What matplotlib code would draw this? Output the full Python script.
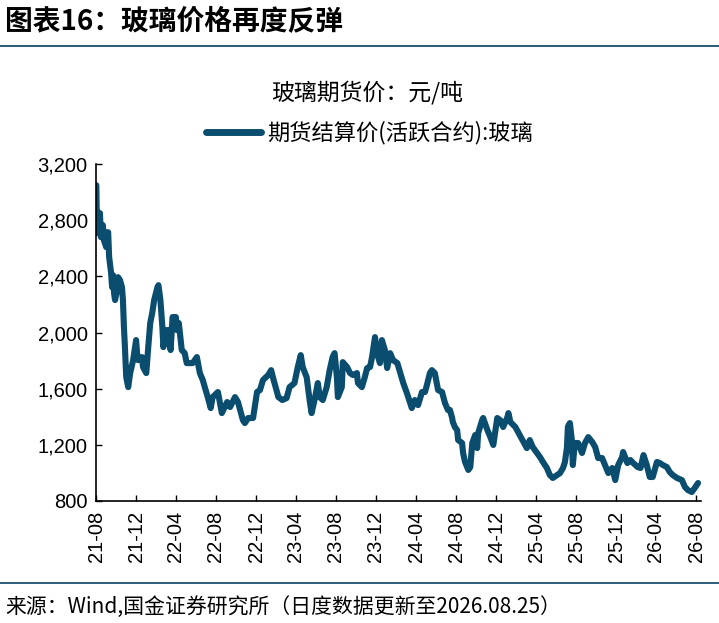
import matplotlib
matplotlib.use("Agg")
import matplotlib.pyplot as plt
import matplotlib.dates as mdates
from matplotlib.ticker import FuncFormatter
import pandas as pd

plt.rcParams['font.family'] = ['Noto Sans CJK SC', 'DejaVu Sans']

title = "图表16：玻璃价格再度反弹"
subtitle = "玻璃期货价：元/吨"
series_name = "期货结算价(活跃合约):玻璃"
source = "来源：Wind,国金证券研究所（日度数据更新至2026.08.25）"

dates = [
    "2021-08-02", "2021-08-03", "2021-08-04", "2021-08-05", "2021-08-13", "2021-08-16",
    "2021-08-22", "2021-08-25", "2021-09-01", "2021-09-04", "2021-09-07", "2021-09-10",
    "2021-09-16", "2021-09-19", "2021-09-22", "2021-09-25", "2021-09-28", "2021-10-04",
    "2021-10-07", "2021-10-13", "2021-10-19", "2021-10-22", "2021-10-25", "2021-10-28",
    "2021-11-01", "2021-11-07", "2021-11-13", "2021-11-22", "2021-12-01", "2021-12-04",
    "2021-12-07", "2021-12-19", "2021-12-22", "2022-01-01", "2022-01-07", "2022-01-13",
    "2022-01-19", "2022-01-25", "2022-02-04", "2022-02-07", "2022-02-13", "2022-02-19",
    "2022-02-22", "2022-03-04", "2022-03-10", "2022-03-16", "2022-03-22", "2022-04-01",
    "2022-04-04", "2022-04-10", "2022-04-19", "2022-04-28", "2022-05-04", "2022-05-13",
    "2022-05-22", "2022-06-04", "2022-06-13", "2022-06-22", "2022-06-28", "2022-07-07",
    "2022-07-16", "2022-07-22", "2022-08-04", "2022-08-07", "2022-08-19", "2022-09-04",
    "2022-09-13", "2022-09-28", "2022-10-07", "2022-10-22", "2022-10-28", "2022-11-07",
    "2022-11-22", "2022-12-04", "2022-12-13", "2022-12-22", "2023-01-07", "2023-01-16",
    "2023-01-22", "2023-02-07", "2023-02-19", "2023-03-04", "2023-03-13", "2023-03-28",
    "2023-04-07", "2023-04-16", "2023-04-22", "2023-05-04", "2023-05-13", "2023-05-19",
    "2023-05-28", "2023-06-07", "2023-06-13", "2023-06-22", "2023-07-04", "2023-07-13",
    "2023-07-22", "2023-07-28", "2023-08-04", "2023-08-07", "2023-08-19", "2023-08-22",
    "2023-09-04", "2023-09-13", "2023-09-22", "2023-10-04", "2023-10-07", "2023-10-19",
    "2023-10-28", "2023-11-04", "2023-11-13", "2023-11-19", "2023-11-28", "2023-12-04",
    "2023-12-13", "2023-12-19", "2023-12-28", "2024-01-04", "2024-01-13", "2024-01-22",
    "2024-02-04", "2024-02-13", "2024-02-22", "2024-03-04", "2024-03-13", "2024-03-19",
    "2024-03-28", "2024-04-07", "2024-04-19", "2024-04-28", "2024-05-04", "2024-05-13",
    "2024-05-19", "2024-05-28", "2024-06-07", "2024-06-19", "2024-06-28", "2024-07-07",
    "2024-07-13", "2024-07-19", "2024-07-22", "2024-07-28", "2024-08-04", "2024-08-07",
    "2024-08-19", "2024-08-22", "2024-08-28", "2024-09-07", "2024-09-13", "2024-09-19",
    "2024-09-28", "2024-10-04", "2024-10-07", "2024-10-19", "2024-10-22", "2024-11-04",
    "2024-11-13", "2024-11-22", "2024-12-04", "2024-12-13", "2024-12-22", "2025-01-04",
    "2025-01-07", "2025-01-13", "2025-01-28", "2025-02-07", "2025-02-22", "2025-03-04",
    "2025-03-13", "2025-03-22", "2025-04-04", "2025-04-13", "2025-04-22", "2025-05-04",
    "2025-05-13", "2025-05-22", "2025-06-04", "2025-06-13", "2025-06-22", "2025-06-28",
    "2025-07-04", "2025-07-07", "2025-07-13", "2025-07-19", "2025-07-22", "2025-07-28",
    "2025-08-07", "2025-08-19", "2025-08-28", "2025-09-07", "2025-09-19", "2025-09-28",
    "2025-10-07", "2025-10-19", "2025-10-28", "2025-11-07", "2025-11-19", "2025-11-28",
    "2025-12-07", "2025-12-19", "2025-12-22", "2026-01-04", "2026-01-13", "2026-01-22",
    "2026-02-04", "2026-02-13", "2026-02-22", "2026-03-04", "2026-03-13", "2026-03-22",
    "2026-04-04", "2026-04-13", "2026-04-22", "2026-05-04", "2026-05-13", "2026-05-22",
    "2026-06-04", "2026-06-19", "2026-06-28", "2026-07-07", "2026-07-19", "2026-07-28",
    "2026-08-07",
]
prices = [
    3049, 2871, 2707, 2857, 2850, 2679,
    2764, 2658, 2608, 2714, 2714, 2537,
    2423, 2323, 2408, 2280, 2231, 2302,
    2394, 2373, 2323, 2231, 2038, 1896,
    1682, 1611, 1711, 1803, 1946, 1853,
    1803, 1825, 1754, 1711, 1896, 2067,
    2138, 2231, 2323, 2337, 2231, 2038,
    1896, 2017, 2017, 1875, 2110, 2110,
    2017, 2067, 1875, 1853, 1782, 1782,
    1782, 1825, 1711, 1661, 1611, 1540,
    1462, 1540, 1569, 1576, 1426, 1505,
    1469, 1540, 1505, 1376, 1355, 1391,
    1391, 1576, 1590, 1661, 1697, 1732,
    1675, 1540, 1519, 1533, 1611, 1640,
    1754, 1839, 1754, 1682, 1519, 1426,
    1519, 1640, 1540, 1519, 1611, 1732,
    1825, 1853, 1682, 1540, 1611, 1789,
    1754, 1711, 1697, 1711, 1640, 1611,
    1682, 1747, 1754, 1825, 1967, 1853,
    1782, 1946, 1875, 1747, 1853, 1803,
    1782, 1711, 1640, 1569, 1505, 1462,
    1519, 1483, 1576, 1576, 1626, 1711,
    1732, 1711, 1590, 1576, 1497, 1448,
    1448, 1398, 1362, 1327, 1305, 1234,
    1213, 1142, 1078, 1021, 1042, 1213,
    1270, 1177, 1284, 1376, 1391, 1305,
    1255, 1199, 1391, 1376, 1327, 1398,
    1426, 1362, 1327, 1284, 1220, 1177,
    1234, 1184, 1142, 1113, 1078, 1035,
    985, 964, 985, 999, 1035, 1078,
    1180, 1330, 1355, 1234, 1056, 1213,
    1213, 1142, 1213, 1255, 1220, 1184,
    1106, 1106, 1056, 999, 1035, 949,
    1056, 1113, 1149, 1070, 1092, 1070,
    1042, 1035, 1127, 1056, 971, 971,
    1078, 1070, 1056, 1042, 1006, 985,
    964, 949, 900, 878, 864, 893,
    928,
]
y_ticks = [800, 1200, 1600, 2000, 2400, 2800, 3200]

line_color = "#0B4D6E"
rule_color = "#1B4F6E"

fig = plt.figure(figsize=(7.19, 6.23), dpi=100)
ax = fig.add_axes([96/719, 1-501/623, 605/719, 337/623])

x = pd.to_datetime(dates)
ax.plot(x, prices, color=line_color, lw=4.4, solid_joinstyle='round',
        solid_capstyle='round', label=series_name)

ax.set_ylim(800, 3200)
ax.set_yticks(y_ticks)
ax.yaxis.set_major_formatter(FuncFormatter(lambda v, p: f"{int(v):,}"))
ax.set_xlim(pd.Timestamp("2021-08-01"), pd.Timestamp("2026-08-16"))
ax.xaxis.set_major_locator(mdates.MonthLocator(bymonth=[4, 8, 12]))
ax.xaxis.set_major_formatter(mdates.DateFormatter("%y-%m"))

for s in ['top', 'right']:
    ax.spines[s].set_visible(False)
for s in ['left', 'bottom']:
    ax.spines[s].set_linewidth(1.2)
    ax.spines[s].set_color('black')

ax.tick_params(axis='both', direction='in', length=4.5, width=1.0, color='black')
for lab in ax.get_xticklabels():
    lab.set_rotation(90)
    lab.set_fontfamily('Liberation Sans')
    lab.set_fontsize(14.5)
for lab in ax.get_yticklabels():
    lab.set_fontfamily('Liberation Sans')
    lab.set_fontsize(14.5)
ax.tick_params(axis='x', pad=7)
ax.tick_params(axis='y', pad=6)

fig.text(5/719, 1-22/623, title, fontsize=20, fontweight='bold', ha='left', va='center',
         color='black')
fig.add_artist(plt.Line2D([0, 1], [1-46/623, 1-46/623], color=rule_color, lw=1.3,
                          transform=fig.transFigure))
fig.text(367/719, 1-93/623, subtitle, fontsize=16.5, ha='center', va='center')
leg = ax.legend(loc='center', bbox_to_anchor=(369/719, 1-133/623),
                bbox_transform=fig.transFigure, frameon=False, fontsize=16,
                handlelength=2.5, handletextpad=0.25)
for h in leg.get_lines():
    h.set_linewidth(5)
fig.add_artist(plt.Line2D([0, 1], [1-583/623, 1-583/623], color=rule_color, lw=1.3,
                          transform=fig.transFigure))
fig.text(5/719, 1-607/623, source, fontsize=15, ha='left', va='center')

fig.savefig("out.png", dpi=100)
